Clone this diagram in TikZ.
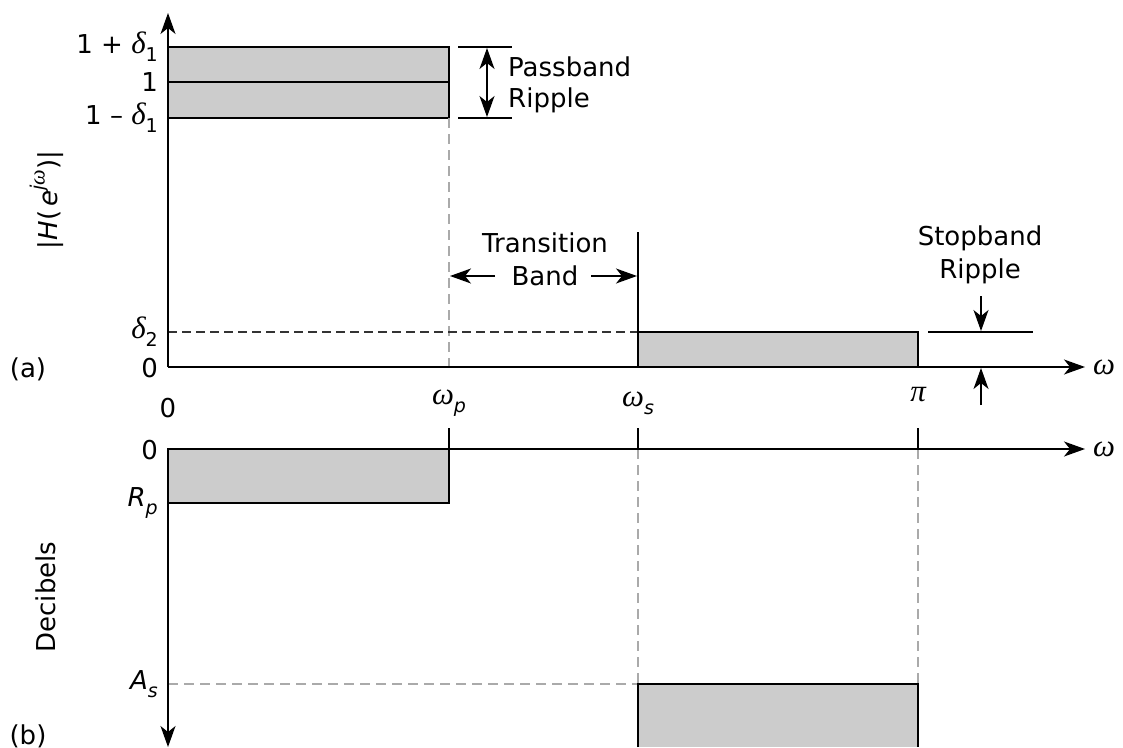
\documentclass[tikz,border=0pt]{standalone}
\usepackage{fontspec}
\setmainfont{DejaVu Sans}
\newfontfamily\serifgk{Liberation Serif}
\newcommand{\gk}[1]{{\serifgk\itshape\fontsize{31}{31}\selectfont #1}}
\newcommand{\gksm}[1]{{\serifgk\itshape\fontsize{22}{22}\selectfont #1}}
\newcommand{\lsub}[1]{\raisebox{-0.3em}{\fontsize{19}{19}\selectfont #1}}
\newcommand{\lsup}[1]{\raisebox{0.5em}{\fontsize{19}{19}\selectfont #1}}
\usetikzlibrary{arrows.meta}
\definecolor{bandgray}{HTML}{CCCCCC}
\definecolor{dashgray}{HTML}{AAAAAA}
\tikzset{tipA/.tip={Stealth[length=21pt,width=15pt,inset=6pt]}}
\begin{document}
\begin{tikzpicture}[x=1pt,y=-1pt,
  axisline/.style={line width=1.5pt,-tipA},
  dimarrow/.style={line width=1.5pt,-tipA},
  band/.style={draw,fill=bandgray,line width=1.5pt},
  thin/.style={line width=1.5pt},
  dashg/.style={draw=dashgray,dash pattern=on 10pt off 6pt,line width=1.6pt},
  dashk/.style={draw=black!80,dash pattern=on 9pt off 5pt,line width=1.4pt},
  lbl/.style={font=\fontsize{26}{31}\selectfont,inner sep=0pt},
]
\useasboundingbox (0,0) rectangle (1123,747);
% ---------- panel (a) ----------
\coordinate (oa) at (168,367);
\coordinate (ya) at (168,13);
\coordinate (xa) at (1085,367);
\coordinate (pbtl) at (168,47);
\coordinate (pbbr) at (449,118);
\coordinate (pml) at (168,82);
\coordinate (pmr) at (449,82);
\coordinate (wpt) at (449,118);
\coordinate (wpb) at (449,367);
\coordinate (wst) at (638,232);
\coordinate (wsb) at (638,332);
\coordinate (sbtl) at (638,332);
\coordinate (sbbr) at (918,367);
\coordinate (d2l) at (168,332);
\coordinate (pr1l) at (458,47);
\coordinate (pr1r) at (512,47);
\coordinate (pr2l) at (458,118);
\coordinate (pr2r) at (512,118);
\coordinate (pra) at (487,48);
\coordinate (prb) at (487,117);
\coordinate (tb1s) at (495,276);
\coordinate (tb1e) at (450,276);
\coordinate (tb2s) at (591,276);
\coordinate (tb2e) at (637,276);
\coordinate (srl) at (928,332);
\coordinate (srr) at (1033,332);
\coordinate (sra) at (981,296);
\coordinate (srb) at (981,331);
\coordinate (src) at (981,405);
\coordinate (srd) at (981,368);

\draw[band] (pbtl) rectangle (pbbr);
\draw[line width=2.8pt] (pml) -- (pmr);
\draw[dashg] (wpt) -- (wpb);
\draw[dashk] (d2l) -- (sbtl);
\draw[band] (sbtl) rectangle (sbbr);
\draw[thin] (wst) -- (wsb);
\draw[axisline] (oa) -- (ya);
\draw[axisline] (oa) -- (xa);

\draw[thin] (pr1l) -- (pr1r);
\draw[thin] (pr2l) -- (pr2r);
\draw[line width=1.5pt,tipA-tipA] (pra) -- (prb);
\draw[dimarrow] (tb1s) -- (tb1e);
\draw[dimarrow] (tb2s) -- (tb2e);
\draw[thin] (srl) -- (srr);
\draw[dimarrow] (sra) -- (srb);
\draw[dimarrow] (src) -- (srd);

\node[lbl,anchor=west] (tpass) at (508,67) {Passband};
\node[lbl,anchor=west] (tprip) at (508,100) {Ripple};
\node[lbl] (ttrans) at (545,243) {Transition};
\node[lbl] (tband) at (545,276) {Band};
\node[lbl] (tstop) at (980,238) {Stopband};
\node[lbl] (tsrip) at (980,271) {Ripple};

\node[lbl,anchor=east] (l1p) at (158,47) {1 + \gk{δ}\lsub{1}};
\node[lbl,anchor=east] (l1) at (158,82) {1};
\node[lbl,anchor=east] (l1m) at (158,118) {1 – \gk{δ}\lsub{1}};
\node[lbl,anchor=east] (ld2) at (158,332) {\gk{δ}\lsub{2}};
\node[lbl,anchor=east] (l0a) at (158,368) {0};
\node[lbl] (la) at (28,369) {(a)};
\node[lbl] (l0x) at (168,408) {0};
\node[lbl] (lwp) at (449,403) {\gk{ω}\lsub{\textit{p}}};
\node[lbl] (lws) at (638,403) {\gk{ω}\lsub{\textit{s}}};
\node[lbl] (lpi) at (918,395) {\gk{π}};
\node[lbl] (lwa) at (1104,367) {\gk{ω}};
\node[lbl,rotate=90] (lh) at (47,200) {|\textit{H}(\,\textit{e}\lsup{\textit{j}\gksm{ω}})|};

% ---------- panel (b) ----------
\coordinate (ob) at (168,449);
\coordinate (xb) at (1085,449);
\coordinate (yb) at (168,747);
\coordinate (rpbr) at (449,503);
\coordinate (t1t) at (449,428);
\coordinate (t1b) at (449,449);
\coordinate (t2t) at (638,428);
\coordinate (t2b) at (638,449);
\coordinate (t3t) at (918,428);
\coordinate (t3b) at (918,449);
\coordinate (asl) at (168,684);
\coordinate (asbl) at (638,684);
\coordinate (asbr) at (918,684);
\coordinate (asbbl) at (638,747);
\coordinate (asbbr) at (918,747);

\draw[band] (ob) rectangle (rpbr);
\draw[thin] (t1t) -- (t1b);
\draw[thin] (t2t) -- (t2b);
\draw[thin] (t3t) -- (t3b);
\draw[dashg] (t2b) -- (asbl);
\draw[dashg] (t3b) -- (asbr);
\draw[dashg] (asl) -- (asbl);
\fill[bandgray] (asbl) rectangle (asbbr);
\draw[thin] (asbbl) -- (asbl) -- (asbr) -- (asbbr);
\draw[axisline] (ob) -- (xb);
\draw[axisline] (ob) -- (yb);

\node[lbl] (lwb) at (1104,449) {\gk{ω}};
\node[lbl,anchor=east] (l0b) at (158,450) {0};
\node[lbl,anchor=east] (lrp) at (158,503) {\textit{R}\lsub{\textit{p}}};
\node[lbl,anchor=east] (las) at (158,684) {\textit{A}\lsub{\textit{s}}};
\node[lbl,rotate=90] (ldb) at (46,597) {Decibels};
\node[lbl] (lb) at (28,736) {(b)};
\end{tikzpicture}
\end{document}
